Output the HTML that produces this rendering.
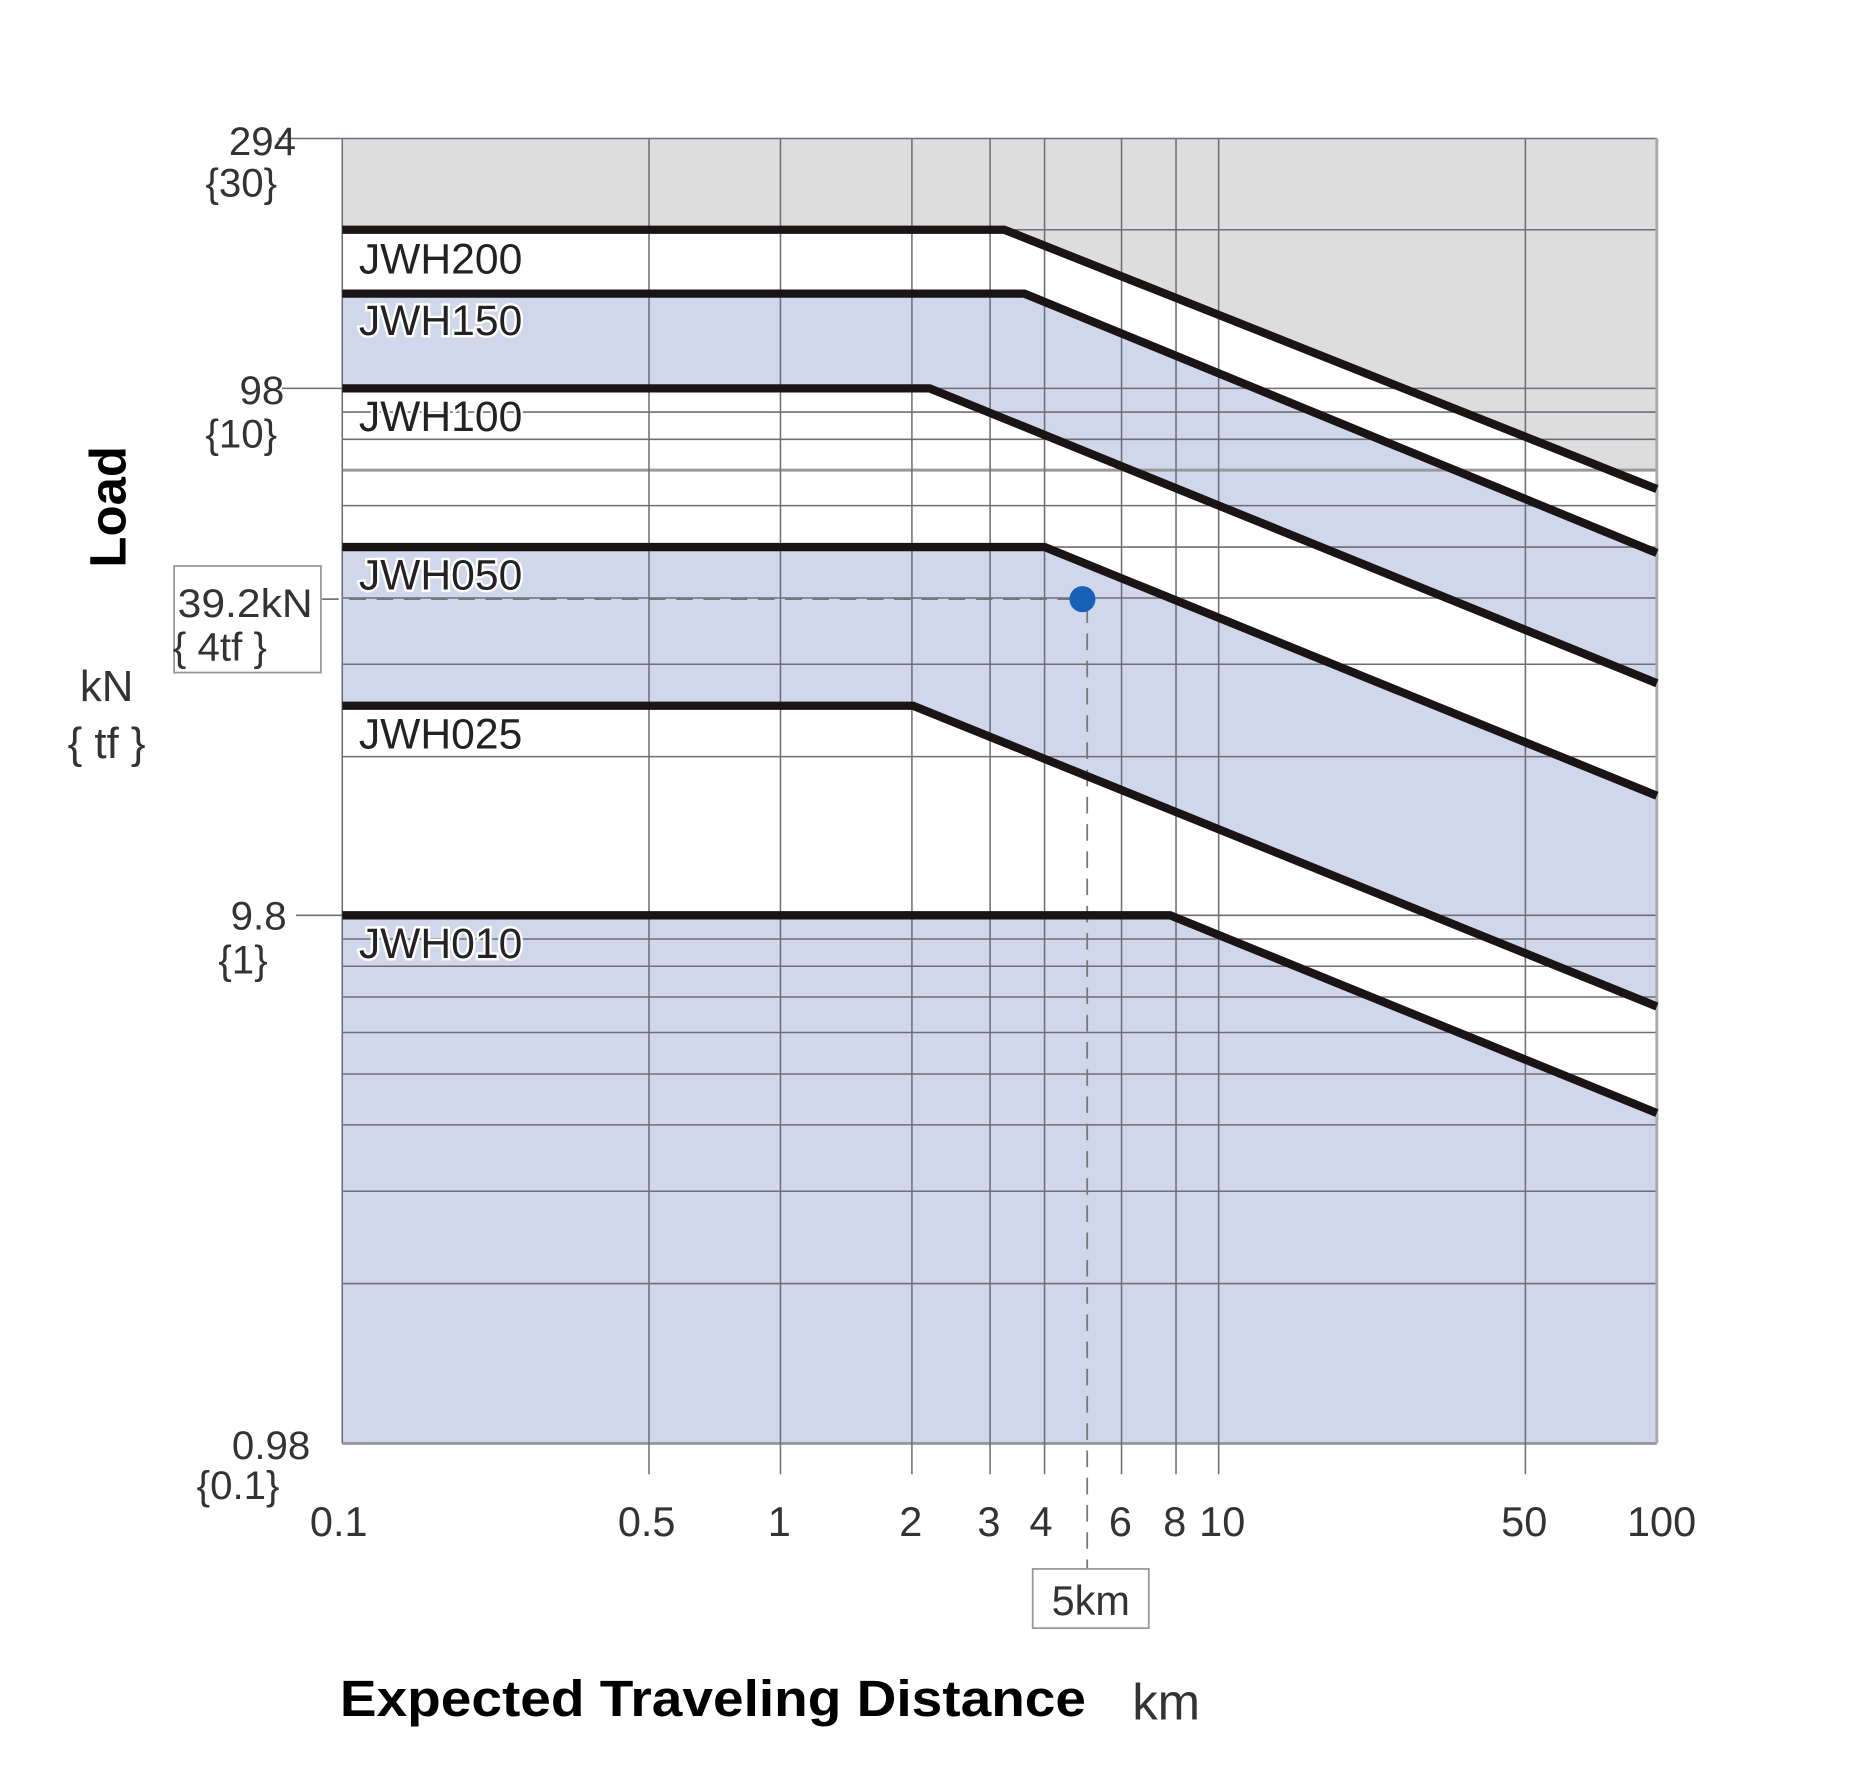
<!DOCTYPE html>
<html><head><meta charset="utf-8"><style>
html,body{margin:0;padding:0;background:#fff;}
svg{display:block;}
text{font-family:"Liberation Sans",sans-serif;}
</style></head><body>
<svg width="1857" height="1788" viewBox="0 0 1568 1510" preserveAspectRatio="none" xmlns="http://www.w3.org/2000/svg">
<rect x="0" y="0" width="1568" height="1510" fill="#fff"/>
<rect x="289" y="117" width="1110" height="1102" fill="#fff"/>
<polygon points="289,248 865,248 1399,467 1399,1219 289,1219" fill="#d0d7ea"/>
<polygon points="289,328 785,328 1399,577 1399,672 882,462 289,462" fill="#fff"/>
<polygon points="289,596 771,596 1399,850 1399,940 988,773 289,773" fill="#fff"/>
<polygon points="289,117 1399,117 1399,397 1359,397 848,194 289,194" fill="#dcdddc"/>
<g stroke="#6e6e78" stroke-width="1.3" fill="none">
<line x1="289" y1="117" x2="1399" y2="117"/>
<line x1="289" y1="194" x2="1399" y2="194"/>
<line x1="289" y1="328" x2="1399" y2="328"/>
<line x1="289" y1="348" x2="1399" y2="348"/>
<line x1="289" y1="371" x2="1399" y2="371"/>
<line x1="289" y1="397" x2="1399" y2="397" stroke="#999" stroke-width="2.5"/>
<line x1="289" y1="427" x2="1399" y2="427"/>
<line x1="289" y1="462" x2="1399" y2="462"/>
<line x1="289" y1="505" x2="1399" y2="505"/>
<line x1="289" y1="561" x2="1399" y2="561"/>
<line x1="289" y1="639" x2="1399" y2="639"/>
<line x1="289" y1="773" x2="1399" y2="773"/>
<line x1="289" y1="793" x2="1399" y2="793"/>
<line x1="289" y1="816" x2="1399" y2="816"/>
<line x1="289" y1="842" x2="1399" y2="842"/>
<line x1="289" y1="872" x2="1399" y2="872"/>
<line x1="289" y1="907" x2="1399" y2="907"/>
<line x1="289" y1="950" x2="1399" y2="950"/>
<line x1="289" y1="1006" x2="1399" y2="1006"/>
<line x1="289" y1="1084" x2="1399" y2="1084"/>
<line x1="289" y1="1219" x2="1399" y2="1219" stroke="#999" stroke-width="2.5"/>
<line x1="289" y1="117" x2="289" y2="1219"/>
<line x1="548" y1="117" x2="548" y2="1245"/>
<line x1="659" y1="117" x2="659" y2="1245"/>
<line x1="770" y1="117" x2="770" y2="1245"/>
<line x1="836" y1="117" x2="836" y2="1245"/>
<line x1="882" y1="117" x2="882" y2="1245"/>
<line x1="947" y1="117" x2="947" y2="1245"/>
<line x1="993" y1="117" x2="993" y2="1245"/>
<line x1="1029" y1="117" x2="1029" y2="1245"/>
<line x1="1288" y1="117" x2="1288" y2="1245"/>
<line x1="1399" y1="117" x2="1399" y2="1219" stroke="#aaa" stroke-width="2.5"/>
<line x1="235" y1="117" x2="289" y2="117"/>
<line x1="238" y1="328" x2="289" y2="328"/>
<line x1="250" y1="773" x2="289" y2="773"/>
</g>
<g stroke="#777" stroke-width="1.5" stroke-dasharray="14,9" fill="none">
<line x1="272" y1="506" x2="910" y2="506"/>
<line x1="918" y1="512" x2="918" y2="1325"/>
</g>
<g stroke="#1a1414" stroke-width="7" fill="none" stroke-linejoin="miter">
<polyline points="289,194 848,194 1399,413"/>
<polyline points="289,248 865,248 1399,467"/>
<polyline points="289,328 785,328 1399,577"/>
<polyline points="289,462 882,462 1399,672"/>
<polyline points="289,596 771,596 1399,850"/>
<polyline points="289,773 988,773 1399,940"/>
</g>
<circle cx="914" cy="506" r="11" fill="#1660b8"/>
<g font-size="36" fill="#222" stroke="#fff" stroke-width="4" style="paint-order:stroke">
<text x="303" y="231" textLength="138" lengthAdjust="spacingAndGlyphs">JWH200</text>
<text x="303" y="283" textLength="138" lengthAdjust="spacingAndGlyphs">JWH150</text>
<text x="303" y="364" textLength="138" lengthAdjust="spacingAndGlyphs">JWH100</text>
<text x="303" y="498" textLength="138" lengthAdjust="spacingAndGlyphs">JWH050</text>
<text x="303" y="632" textLength="138" lengthAdjust="spacingAndGlyphs">JWH025</text>
<text x="303" y="809" textLength="138" lengthAdjust="spacingAndGlyphs">JWH010</text>
</g>
<g font-size="34" fill="#333" text-anchor="end">
<text x="250" y="131">294</text>
<text x="234" y="166">{30}</text>
<text x="240" y="341">98</text>
<text x="234" y="378">{10}</text>
<text x="242" y="785">9.8</text>
<text x="226" y="822">{1}</text>
<text x="262" y="1232">0.98</text>
<text x="236" y="1266">{0.1}</text>
</g>
<rect x="147" y="478" width="124" height="90" fill="#fff" stroke="#999" stroke-width="1.5"/>
<text x="150" y="521" font-size="34" fill="#333" textLength="114" lengthAdjust="spacingAndGlyphs">39.2kN</text>
<text x="146" y="558" font-size="34" fill="#333">{ 4tf  }</text>
<g font-size="35" fill="#333" text-anchor="middle">
<text x="286" y="1297">0.1</text>
<text x="546" y="1297">0.5</text>
<text x="658" y="1297">1</text>
<text x="769" y="1297">2</text>
<text x="835" y="1297">3</text>
<text x="879" y="1297">4</text>
<text x="946" y="1297">6</text>
<text x="992" y="1297">8</text>
<text x="1032" y="1297">10</text>
<text x="1287" y="1297">50</text>
<text x="1403" y="1297">100</text>
</g>
<rect x="872" y="1325" width="98" height="50" fill="#fff" stroke="#999" stroke-width="1.5"/>
<text x="921" y="1364" font-size="35" fill="#333" text-anchor="middle">5km</text>
<text transform="translate(106,428) rotate(-90)" font-size="43" font-weight="bold" fill="#000" text-anchor="middle">Load</text>
<text x="90" y="592" font-size="37" fill="#333" text-anchor="middle">kN</text>
<text x="90" y="640" font-size="37" fill="#333" text-anchor="middle">{ tf }</text>
<text x="287" y="1449" font-size="43" font-weight="bold" fill="#000" textLength="630" lengthAdjust="spacingAndGlyphs">Expected Traveling Distance</text>
<text x="956" y="1452" font-size="43" fill="#333">km</text>
</svg>
</body></html>
